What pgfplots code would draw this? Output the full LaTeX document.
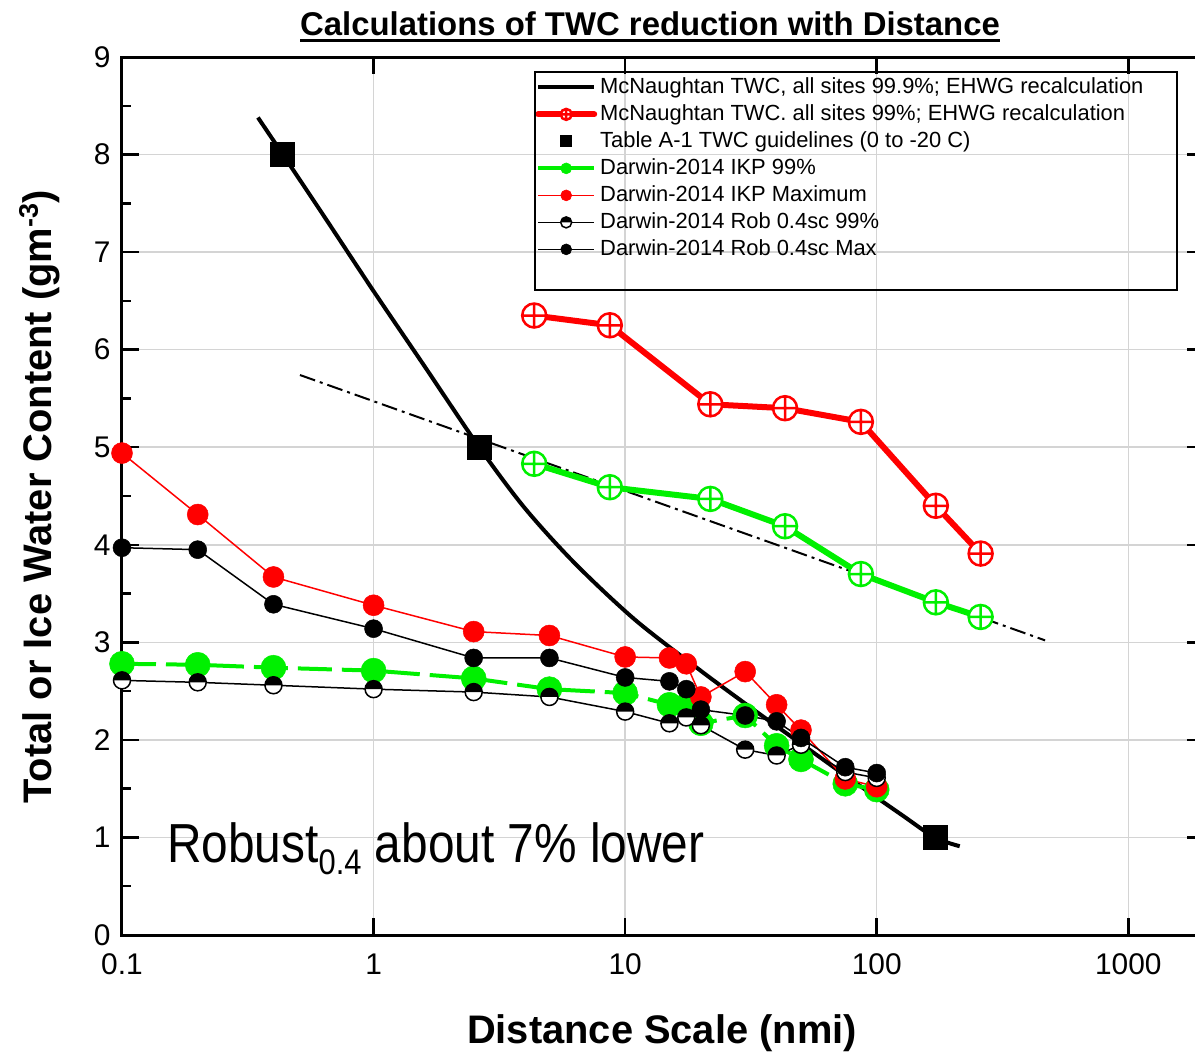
\documentclass[border=0pt]{standalone}
\usepackage{pgfplots}
\pgfplotsset{compat=1.18}
\usepackage{graphicx}
\usepackage{fontspec}
\setmainfont{Liberation Sans}
\usetikzlibrary{plotmarks}
\definecolor{myred}{RGB}{255,0,0}
\definecolor{mygreen}{RGB}{0,240,0}
\definecolor{gridgray}{RGB}{212,212,212}
\pgfdeclareplotmark{halfblack}{%
  \pgfpathcircle{\pgfpointorigin}{\pgfplotmarksize}%
  \pgfsetfillcolor{white}\pgfusepath{fill}%
  \pgfpathmoveto{\pgfqpoint{-\pgfplotmarksize}{0pt}}%
  \pgfpatharc{180}{0}{\pgfplotmarksize}%
  \pgfpathclose
  \pgfsetfillcolor{black}\pgfusepath{fill}%
  \pgfpathcircle{\pgfpointorigin}{\pgfplotmarksize}%
  \pgfusepath{stroke}%
}
\begin{document}
\begin{tikzpicture}
\begin{axis}[
  at={(0bp,0bp)}, anchor=south west,
  scale only axis, width=1082bp, height=878bp,
  xmode=log, log basis x=10,
  xmin=0.1, xmax=2000, ymin=0, ymax=9,
  xtick={0.1,1,10,100,1000}, xticklabels={0.1,1,10,100,1000},
  ytick={0,1,2,3,4,5,6,7,8,9}, minor y tick num=1,
  tick align=inside,
  major tick length=17bp, minor tick length=9bp,
  every tick/.style={black, line width=2.5bp},
  axis line style={line width=3bp},
  grid=major, major grid style={gridgray, line width=1.5bp},
  tick label style={font=\fontsize{30}{30}\selectfont},
  xticklabel style={yshift=-15bp},
  yticklabel style={xshift=-8bp},
  /pgf/number format/assume math mode=true,
  legend image code/.code={\draw[mark repeat=2,mark phase=2,#1] plot coordinates {(0bp,0bp) (28bp,0bp) (56bp,0bp)};},
  legend image post style={mark size=5.5bp, solid},
  legend cell align=left,
  legend style={at={(axis description cs:0.3817,0.981)}, anchor=north west,
    draw=none, fill=none, inner sep=0pt, row sep=0pt, column sep=0pt,
    font=\fontsize{22}{22}\selectfont,
    nodes={inner xsep=3bp, inner ysep=2bp, text height=18bp, text depth=5bp}},
]
% dash-dot reference line (no legend)
\addplot[forget plot, black, line width=2bp, dash pattern=on 16bp off 5bp on 3bp off 5bp]
  coordinates {(0.51,5.74) (467,3.02)};
% McNaughtan 99.9%
\addplot[black, line width=4bp, smooth, tension=0.5] coordinates {
 (0.347,8.38) (0.436,8.0) (0.631,7.38) (1,6.60) (1.585,5.84) (2.63,5.0)
 (3.98,4.38) (6.31,3.81) (10.96,3.23) (19.95,2.71) (31.6,2.33) (50.1,1.96)
 (79.4,1.59) (125.9,1.23) (170,1.0) (213.8,0.91)};
\addlegendentry{McNaughtan TWC, all sites 99.9\%; EHWG recalculation}
% McNaughtan 99%
\addplot[myred, line width=6bp, line cap=round, mark=oplus*, mark size=12bp,
  mark options={draw=myred, fill=white, line width=2.5bp}] coordinates {
 (4.35,6.35) (8.69,6.25) (21.8,5.44) (43.2,5.40) (86.5,5.26) (171.8,4.40) (258.8,3.91)};
\addlegendentry{McNaughtan TWC. all sites 99\%; EHWG recalculation}
% green McNaughtan (no legend)
\addplot[forget plot, mygreen, line width=6bp, line cap=round, mark=oplus*, mark size=12bp,
  mark options={draw=mygreen, fill=white, line width=2.5bp}] coordinates {
 (4.35,4.83) (8.69,4.59) (21.8,4.47) (43.2,4.19) (86.5,3.70) (171.8,3.41) (258.8,3.26)};
% Table A-1
\addplot[only marks, mark=square*, mark size=12bp, mark options={fill=black, draw=black, line width=0pt}]
 coordinates {(0.436,8.0) (2.63,5.0) (171,1.0)};
\addlegendentry{Table A-1 TWC guidelines (0 to -20 C)}
% Darwin IKP 99%
\addplot[mygreen, line width=4bp, dash pattern=on 34bp off 10bp, mark=*, mark size=12.5bp,
  mark options={solid, fill=mygreen, draw=mygreen, line width=0.5bp}] coordinates {
 (0.1,2.78) (0.2,2.77) (0.4,2.74) (1,2.71) (2.5,2.63) (5,2.52) (10,2.48) (15,2.36)
 (17.5,2.35) (20,2.17) (30,2.25) (40,1.94) (50,1.80) (75,1.55) (100,1.49)};
\addlegendentry{Darwin-2014 IKP 99\%}
% Darwin IKP Maximum
\addplot[myred, line width=1.5bp, mark=*, mark size=10.5bp,
  mark options={fill=myred, draw=myred, line width=0.5bp}] coordinates {
 (0.1,4.94) (0.2,4.31) (0.4,3.67) (1,3.38) (2.5,3.11) (5,3.07) (10,2.85) (15,2.84)
 (17.5,2.78) (20,2.44) (30,2.70) (40,2.36) (50,2.10) (75,1.60) (100,1.52)};
\addlegendentry{Darwin-2014 IKP Maximum}
% Darwin Rob 0.4sc 99%
\addplot[black, line width=1.5bp, mark=halfblack, mark size=8.5bp,
  mark options={draw=black, line width=1.5bp}] coordinates {
 (0.1,2.61) (0.2,2.59) (0.4,2.56) (1,2.52) (2.5,2.49) (5,2.44) (10,2.29) (15,2.17)
 (17.5,2.23) (20,2.15) (30,1.90) (40,1.84) (50,1.95) (75,1.67) (100,1.61)};
\addlegendentry{Darwin-2014 Rob 0.4sc 99\%}
% Darwin Rob 0.4sc Max
\addplot[black, line width=1.5bp, mark=*, mark size=9bp,
  mark options={fill=black, draw=black, line width=0.5bp}] coordinates {
 (0.1,3.97) (0.2,3.95) (0.4,3.39) (1,3.14) (2.5,2.84) (5,2.84) (10,2.64) (15,2.60)
 (17.5,2.52) (20,2.31) (30,2.25) (40,2.19) (50,2.02) (75,1.72) (100,1.66)};
\addlegendentry{Darwin-2014 Rob 0.4sc Max}
\addlegendimage{empty legend}
\addlegendentry{}
\end{axis}
% legend frame
\draw[line width=2bp] (413bp,863bp) rectangle (1055bp,645bp);
% title
\node[anchor=base, inner sep=0pt, font=\fontsize{33}{33}\selectfont\bfseries] (t) at (528bp,899bp)
  {Calculations of TWC reduction with Distance};
\draw[line width=3bp] ([yshift=-4.5bp]t.base west) -- ([yshift=-4.5bp]t.base east);
% x label
\node[anchor=base, inner sep=0pt, font=\fontsize{40}{40}\selectfont\bfseries] at (540bp,-108bp)
  {Distance Scale (nmi)};
% y label
\node[rotate=90, anchor=base, inner sep=0pt, font=\fontsize{40}{40}\selectfont\bfseries] at (-70bp,438bp)
  {Total or Ice Water Content (gm\raisebox{14bp}{\fontsize{27}{27}\selectfont -3})};
% annotation
\node[anchor=base west, inner sep=0pt] at (45bp,72bp)
  {\scalebox{1}[1.15]{\fontsize{48}{48}\selectfont Robust\raisebox{-10bp}{\fontsize{31}{31}\selectfont 0.4} about 7\% lower}};
\pgfresetboundingbox
\useasboundingbox (-122bp,-117bp) rectangle (1073bp,935bp);
\end{tikzpicture}
\end{document}
